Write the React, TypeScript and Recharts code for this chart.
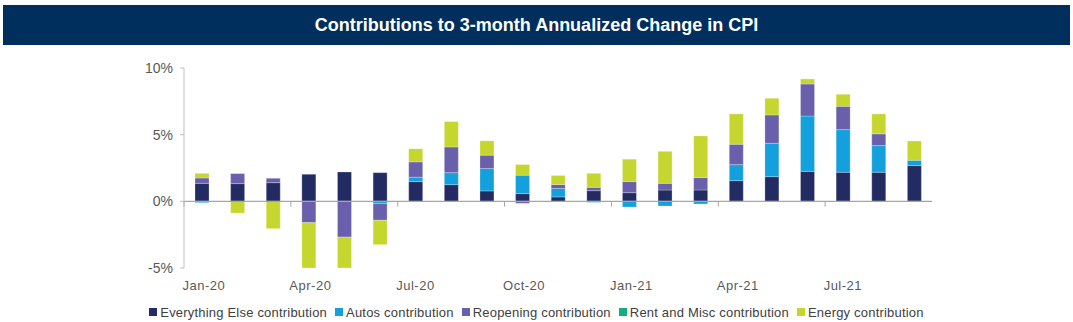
import { BarChart, Bar, XAxis, YAxis, ReferenceLine, Legend } from 'recharts';

const FONT = "'Liberation Sans', Arial, sans-serif";

const months = [
  'Jan-20', 'Feb-20', 'Mar-20', 'Apr-20', 'May-20', 'Jun-20', 'Jul-20', 'Aug-20', 'Sep-20', 'Oct-20', 'Nov-20',
  'Dec-20', 'Jan-21', 'Feb-21', 'Mar-21', 'Apr-21', 'May-21', 'Jun-21', 'Jul-21', 'Aug-21', 'Sep-21',
];

// contributions, percentage points
const everythingElse = [1.35, 1.33, 1.4, 2.03, 2.2, 2.15, 1.48, 1.25, 0.78, 0.58, 0.33, 0.8, 0.65, 0.85, 0.85, 1.55, 1.85, 2.25, 2.18, 2.18, 2.68];
const autos = [-0.1, 0, 0, 0, 0, -0.17, 0.33, 0.9, 1.68, 1.38, 0.63, -0.08, -0.43, -0.35, -0.2, 1.2, 2.5, 4.15, 3.2, 2.0, 0.4];
const reopening = [0.4, 0.75, 0.33, -1.6, -2.68, -1.25, 1.15, 1.93, 1.0, -0.15, 0.3, 0.25, 0.83, 0.5, 0.93, 1.53, 2.13, 2.4, 1.75, 0.88, -0.05];
const rentMisc = [0, 0, 0, 0, 0, 0, 0, 0, 0, 0, 0, 0, 0, 0, 0, 0, 0, 0, 0, 0, 0];
const energy = [0.35, -0.88, -2.05, -3.4, -2.32, -1.83, 0.98, 1.9, 1.08, 0.8, 0.68, 1.05, 1.68, 2.4, 3.13, 2.28, 1.25, 0.38, 0.9, 1.5, 1.45];

const xTickLabels = ['Jan-20', 'Apr-20', 'Jul-20', 'Oct-20', 'Jan-21', 'Apr-21', 'Jul-21'];
const yTicks = [-5, 0, 5, 10];

const series = [
  { key: 'everythingElse', name: 'Everything Else contribution', color: '#222b62' },
  { key: 'autos', name: 'Autos contribution', color: '#14a0dc' },
  { key: 'reopening', name: 'Reopening contribution', color: '#6a5fab' },
  { key: 'rentMisc', name: 'Rent and Misc contribution', color: '#0fae83' },
  { key: 'energy', name: 'Energy contribution', color: '#c5d62f' },
];

const data = months.map((month, i) => ({
  idx: i,
  month,
  everythingElse: everythingElse[i],
  autos: autos[i],
  reopening: reopening[i],
  rentMisc: rentMisc[i],
  energy: energy[i],
}));

// ticks sit on the boundary before each labelled month
const xTicks = xTickLabels.map(l => months.indexOf(l) - 0.5);

function MonthTick(props: any) {
  const { x, y, payload } = props;
  const label = months[Math.round(payload.value + 0.5)];
  return (
    <text x={x - 1.5} y={y} dy={22} textAnchor="start" fill="#595959" fontSize={13} letterSpacing={0.5} fontFamily={FONT}>
      {label}
    </text>
  );
}

function LegendContent() {
  return (
    <div
      style={{
        display: 'flex',
        justifyContent: 'center',
        alignItems: 'center',
        height: 20,
        fontSize: 13,
        letterSpacing: 0.2,
        fontFamily: FONT,
        color: '#404040',
        whiteSpace: 'nowrap',
      }}
    >
      {series.map(s => (
        <span key={s.key} style={{ display: 'flex', alignItems: 'center', marginRight: 8 }}>
          <span style={{ width: 8, height: 8, background: s.color, marginRight: 3, display: 'inline-block' }} />
          {s.name}
        </span>
      ))}
    </div>
  );
}

export default function App() {
  return (
    <div style={{ position: 'absolute', left: 0, top: 0, width: 1073, height: 322, background: '#fff' }}>
      <div
        style={{
          position: 'absolute',
          left: 3,
          top: 5,
          width: 1067,
          height: 40,
          background: '#002e5d',
          color: '#fff',
          fontFamily: FONT,
          fontWeight: 'bold',
          fontSize: 18,
          lineHeight: '40px',
          textAlign: 'center',
        }}
      >
        Contributions to 3-month Annualized Change in CPI
      </div>
      <BarChart
        width={1073}
        height={322}
        data={data}
        stackOffset="sign"
        margin={{ top: 68, right: 141, bottom: 0, left: 124 }}
      >
        <XAxis
          dataKey="idx"
          type="number"
          domain={[-0.5, 20.5]}
          ticks={xTicks}
          interval={0}
          height={34}
          axisLine={false}
          tickLine={false}
          tickSize={0}
          tickMargin={0}
          tick={<MonthTick />}
        />
        <YAxis
          type="number"
          domain={[-5, 10]}
          ticks={yTicks}
          allowDataOverflow
          width={60}
          tickSize={4}
          tickMargin={7}
          tickFormatter={(v: number) => `${v}%`}
          axisLine={{ stroke: '#bfbfbf' }}
          tickLine={{ stroke: '#bfbfbf' }}
          tick={{ fill: '#595959', fontSize: 14, fontFamily: FONT }}
        />
        <Legend
          verticalAlign="bottom"
          wrapperStyle={{ left: 4, width: 1073 }}
          content={<LegendContent />}
        />
        {series.map(s => (
          <Bar
            key={s.key}
            dataKey={s.key}
            name={s.name}
            stackId="cpi"
            fill={s.color}
            barSize={14}
            stroke="#ffffff"
            strokeOpacity={0.5}
            strokeWidth={0.5}
            isAnimationActive={false}
          />
        ))}
        <ReferenceLine y={0} stroke="#a6a6a6" strokeWidth={1.2} />
        {xTicks.map(t => (
          <ReferenceLine
            key={t}
            segment={[{ x: t, y: 0 }, { x: t, y: -0.4 }]}
            stroke="#a6a6a6"
          />
        ))}
      </BarChart>
    </div>
  );
}
